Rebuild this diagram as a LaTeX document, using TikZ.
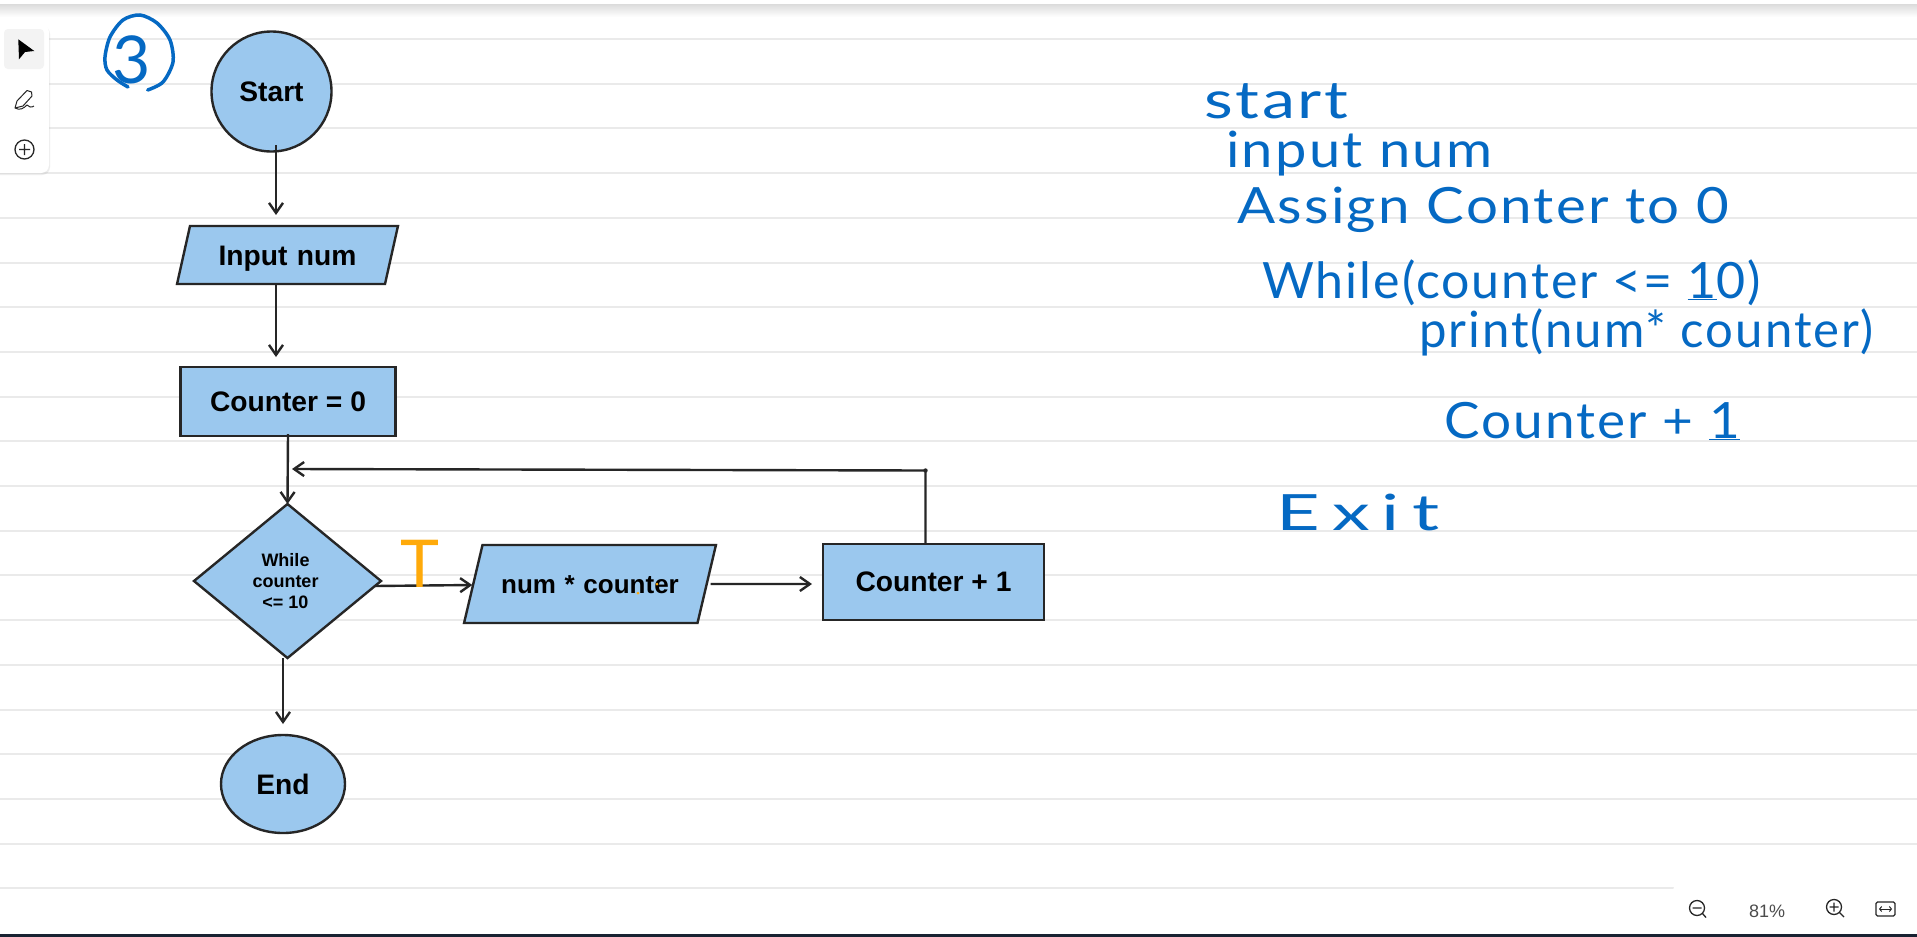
\documentclass[tikz,border=0pt]{standalone}
\usepackage{fontspec}
\usepackage{graphicx}
\setmainfont{Liberation Sans}
\newfontfamily\inkfont{Lato}[LetterSpace=4]
\usetikzlibrary{shapes.geometric, arrows.meta, positioning, shadows, calc}
\definecolor{shapeblue}{RGB}{155,200,238}
\definecolor{inkblue}{RGB}{5,105,195}
\definecolor{inkorange}{RGB}{255,170,10}
\definecolor{ruleline}{RGB}{234,234,234}
\definecolor{edgeblack}{RGB}{38,38,38}
\definecolor{barnavy}{RGB}{24,34,50}
\definecolor{iconbtn}{RGB}{243,243,243}
% fits a written line to its width, height stays as set
\newcommand{\inkline}[2]{\resizebox{#1pt}{\height}{#2}}
\tikzset{
  shapebase/.style={draw=edgeblack, line width=2.4pt, fill=shapeblue, text=black, inner sep=0pt, outer sep=0pt, font=\fontsize{28.2pt}{30pt}\selectfont\bfseries},
  ioshape/.style={shapebase, trapezium, trapezium left angle=#1, trapezium right angle=180-#1, align=center},
  procbox/.style={shapebase, rectangle},
  flow/.style={draw=edgeblack, line width=2.4pt, -{Straight Barb[length=10pt,width=14pt]}},
  inktext/.style={text=inkblue, anchor=base west, inner sep=0pt, font=\fontsize{50pt}{52pt}\selectfont\inkfont},
  panel/.style={fill=white, rounded corners=8pt, drop shadow={opacity=0.14, shadow xshift=1pt, shadow yshift=-2pt}},
  icon/.style={draw=black!85, line width=1.3pt},
}
\begin{document}
\begin{tikzpicture}[x=1pt, y=-1pt]
\path[use as bounding box, fill=white] (0,0) rectangle (1917,937);

% Notebook lines
\foreach \k in {0,...,19}
  \draw[ruleline, line width=2pt] (0,{39+44.7*\k}) -- (1917,{39+44.7*\k});

% Top edge
\shade[top color=black!14, bottom color=white] (0,4) rectangle (1917,17);

% Flowchart
\node[shapebase, circle, minimum size=120pt] (start) at (271.5,91.5) {Start};
\node[ioshape=77.4, text width=195pt, text height=39.7pt, text depth=18.3pt] (input) at (287.5,255) {Input num};
\node[procbox, minimum width=215pt, minimum height=69pt] (counter) at (288,401.5) {Counter = 0};
\node[shapebase, diamond, minimum width=187pt, minimum height=154pt, align=center, font=\fontsize{18pt}{21pt}\selectfont\bfseries] (while) at (287.5,581) {\hspace*{-4pt}While\\\hspace*{-4pt}counter\\\hspace*{-4pt}<= 10};
\node[ioshape=76.7, text width=215pt, text height=48.7pt, text depth=29.3pt, font=\fontsize{26pt}{30pt}\selectfont\bfseries] (product) at (590,584) {num * counter};
\node[procbox, minimum width=221pt, minimum height=76pt] (increment) at (933.5,582) {Counter + 1};
\node[shapebase, ellipse, minimum width=124pt, minimum height=98pt] (end) at (283,784) {End};

% Connectors
\coordinate (loopin) at (292,469);
\coordinate (loopbend) at (925.5,470.5);
\draw[flow] ([xshift=4.5pt,yshift=6.5pt]start.south) -- ([xshift=-11.5pt,yshift=11pt]input.north);
\draw[flow] ([xshift=-11.5pt]input.south) -- ([xshift=-12pt,yshift=10pt]counter.north);
\draw[flow] ([yshift=2pt]counter.south) -- (while.north);
\draw[flow] ([xshift=-6pt,yshift=-5pt]while.east) -- ([xshift=-1pt,yshift=-1pt]product.west);
\draw[flow] ([xshift=4pt]product.east) -- ([xshift=-11pt,yshift=-2pt]increment.west);
\draw[flow] ([xshift=-8pt]increment.north) -- (loopbend) -- (loopin);
\draw[flow] ([xshift=-4.5pt]while.south) -- ([yshift=11pt]end.north);
\fill[edgeblack] (loopbend) circle (2.2pt);

% Notes in blue
\node[inktext, font=\fontsize{52pt}{54pt}\selectfont\inkfont] (notestart) at (1204,118) {\inkline{144}{start}};
\node[inktext] (noteinput) at (1226,167) {\inkline{266}{input num}};
\node[inktext] (noteassign) at (1237,223) {\inkline{492}{Assign Conter to 0}};
\node[inktext] (notewhile) at (1262,298) {\inkline{499}{While(counter <= \underline{1}0)}};
\node[inktext] (noteprint) at (1419,347) {\inkline{454}{print(num* counter)}};
\node[inktext] (noteincr) at (1444,438) {\inkline{296}{Counter + \underline{1}}};
\node[inktext] (noteexit) at (1276,530) {\inkline{163}{\addfontfeature{LetterSpace=16}Exit}};

% Circled number
\draw[inkblue, line width=3.5pt, line cap=round] plot[smooth] coordinates {(147.7,90) (163,82) (173,62) (170,40) (157,23) (140,15) (123,20) (110,37) (105,57) (107,70) (117,80) (128,87)};
\node[inktext, anchor=center, font=\fontsize{66pt}{66pt}\selectfont\inkfont] (notethree) at (132,60) {3};

% Orange mark
\node[inktext, text=inkorange, font=\fontsize{66pt}{66pt}\selectfont\inkfont] (markt) at (400,587) {T};
\fill[inkorange] (638,593) circle (1.5pt) (657,584) circle (1.5pt);

% Left tools
\path[panel] (-12,24) rectangle (49,173);
\fill[iconbtn, rounded corners=4pt] (4,29) rectangle (44,69);
\fill[black] (18.3,39.3) -- (34.3,51) -- (25,52) -- (19,59.3) -- cycle;
\draw[icon, line width=1pt, line join=round] (15,108) -- (17,101) -- (27,90.5) -- (31.5,92) -- (32,96) -- (23,106) -- cycle (15,108) .. controls (20,111) and (24,108) .. (27,105) .. controls (29,107) and (31,108) .. (34,106);
\draw[icon] (24.5,149.5) circle (9.5pt) (24.5,144) -- (24.5,155) (19,149.5) -- (30,149.5);

% Zoom controls
\path[panel] (1673,883) rectangle (1935,950);
\node[text=black!70, font=\fontsize{18pt}{20pt}\selectfont, inner sep=0pt] (zoomvalue) at (1767,911) {81\%};
\draw[icon] (1697,908) circle (7.5pt) (1692.5,908) -- (1701.5,908) (1702.5,913.5) -- (1706,917.5);
\draw[icon] (1834,907) circle (7.5pt) (1829.5,907) -- (1838.5,907) (1834,902.5) -- (1834,911.5) (1839.5,912.5) -- (1844,917);
\draw[icon, rounded corners=1.5pt] (1876,902) rectangle (1895,916);
\draw[icon, line width=1pt, {Straight Barb[length=2pt,width=5pt]}-{Straight Barb[length=2pt,width=5pt]}] (1879,909) -- (1892,909);

% Bottom edge
\fill[barnavy] (0,934) rectangle (1917,937);
\end{tikzpicture}
\end{document}
